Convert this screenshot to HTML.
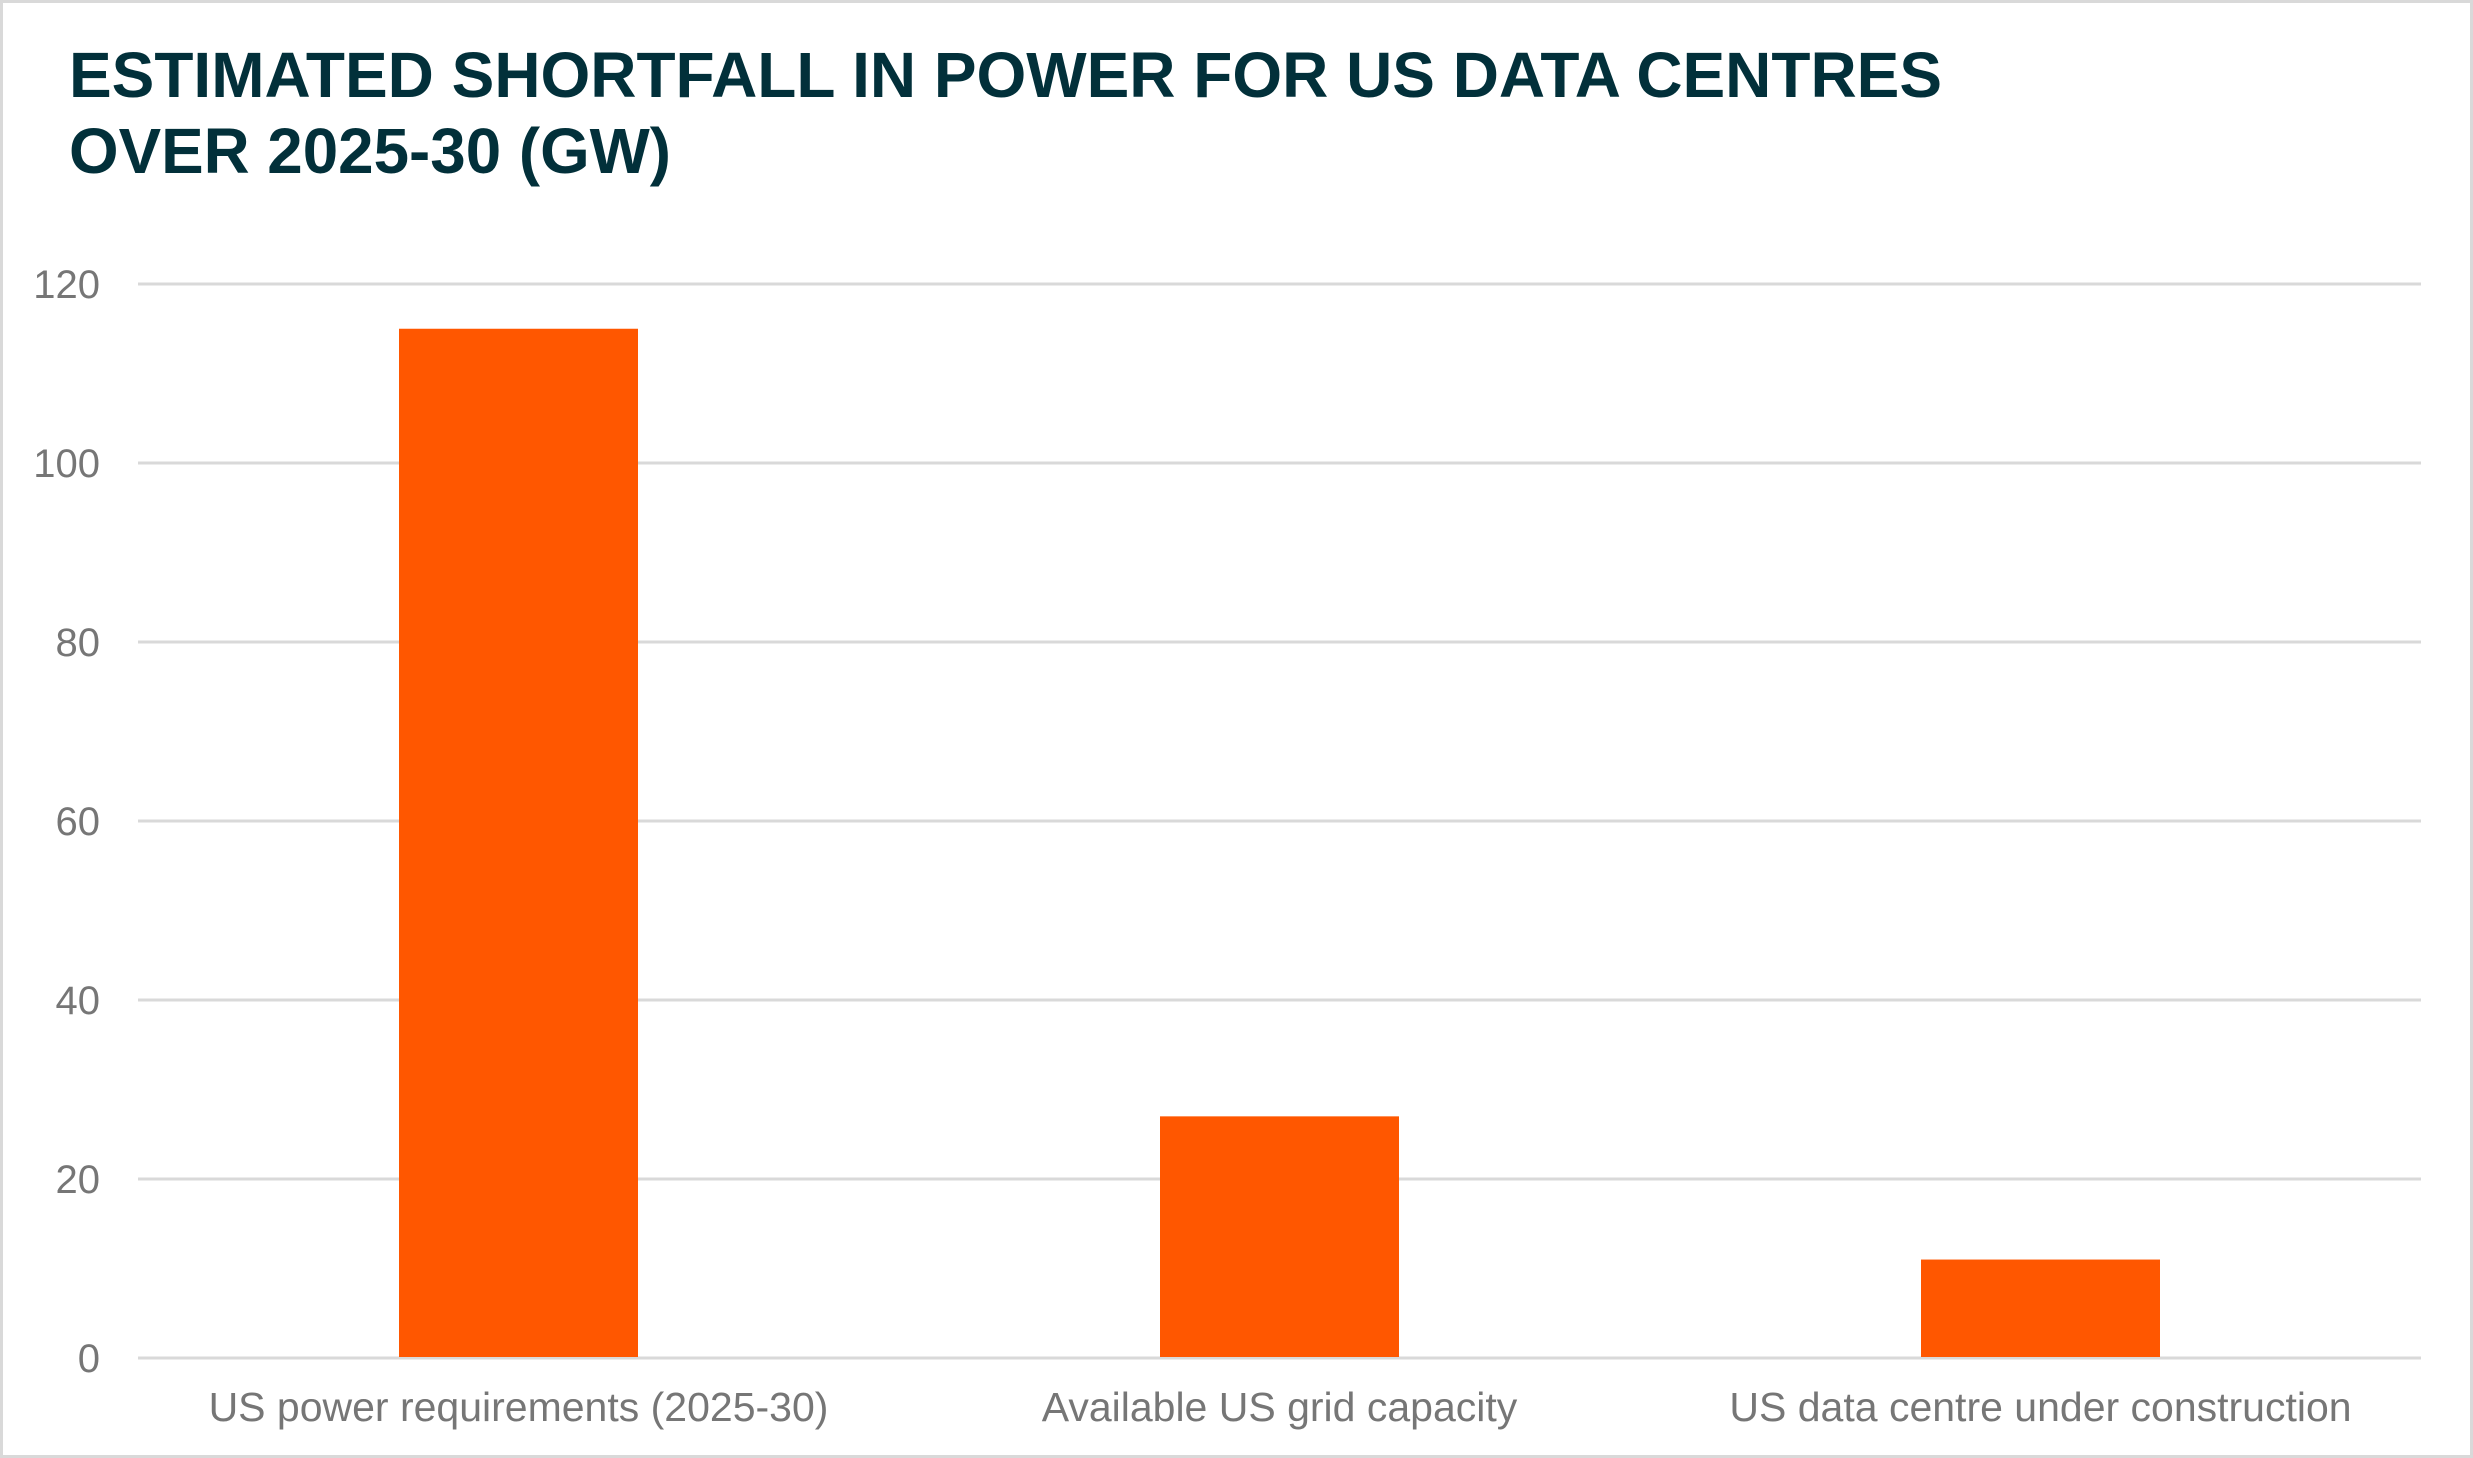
<!DOCTYPE html>
<html><head><meta charset="utf-8"><style>
html,body{margin:0;padding:0;background:#fff;}
svg{display:block;font-family:"Liberation Sans",Arial,sans-serif;}
</style></head><body>
<svg id="chart" width="2473" height="1458" viewBox="0 0 2473 1458">
<rect x="1.5" y="1.5" width="2470" height="1455" fill="#fff" stroke="#d9d9d9" stroke-width="3"/>
<text x="69" y="97" font-size="64" font-weight="bold" fill="#02303a" textLength="1873" lengthAdjust="spacingAndGlyphs">ESTIMATED SHORTFALL IN POWER FOR US DATA CENTRES</text>
<text x="69" y="173" font-size="64" font-weight="bold" fill="#02303a" textLength="602" lengthAdjust="spacingAndGlyphs">OVER 2025-30 (GW)</text>
<g id="grid"></g><g id="bars"></g><g id="labels"></g>
</svg>
<script>
const categories = ["US power requirements (2025-30)", "Available US grid capacity", "US data centre under construction"];
const values = [115, 27, 11];
const ticks = [0, 20, 40, 60, 80, 100, 120];
const NS = "http://www.w3.org/2000/svg";
const x0 = 138, x1 = 2421, y0 = 1358, y120 = 284, yMax = 120;
const yS = v => y0 - (v / yMax) * (y0 - y120);
const band = (x1 - x0) / categories.length;
const xC = i => x0 + band * (i + 0.5);
const barW = 239;
const grid = document.getElementById('grid'), bars = document.getElementById('bars'), labels = document.getElementById('labels');
ticks.forEach(t => {
  const l = document.createElementNS(NS, 'line');
  
  
  l.setAttribute('x1', x0); l.setAttribute('x2', x1);
  l.setAttribute('y1', yS(t)); l.setAttribute('y2', yS(t));
  l.setAttribute('stroke', '#d9d9d9'); l.setAttribute('stroke-width', '3');
  grid.appendChild(l);
  const tx = document.createElementNS(NS, 'text');
  
  
  tx.setAttribute('x', 100); tx.setAttribute('y', yS(t) + 14);
  tx.setAttribute('text-anchor', 'end'); tx.setAttribute('font-size', '40');
  tx.setAttribute('fill', '#767676');
  tx.textContent = t;
  labels.appendChild(tx);
});
values.forEach((v, i) => {
  const r = document.createElementNS(NS, 'rect');
  
  
  r.setAttribute('x', xC(i) - barW / 2); r.setAttribute('width', barW);
  r.setAttribute('y', yS(v)); r.setAttribute('height', y0 - yS(v) - 1);
  r.setAttribute('fill', '#ff5700');
  bars.appendChild(r);
  const tx = document.createElementNS(NS, 'text');
  
  
  tx.setAttribute('x', xC(i)); tx.setAttribute('y', 1421);
  tx.setAttribute('text-anchor', 'middle'); tx.setAttribute('font-size', '41');
  tx.setAttribute('fill', '#767676');
  tx.textContent = categories[i];
  labels.appendChild(tx);
});
</script>
</body></html>
